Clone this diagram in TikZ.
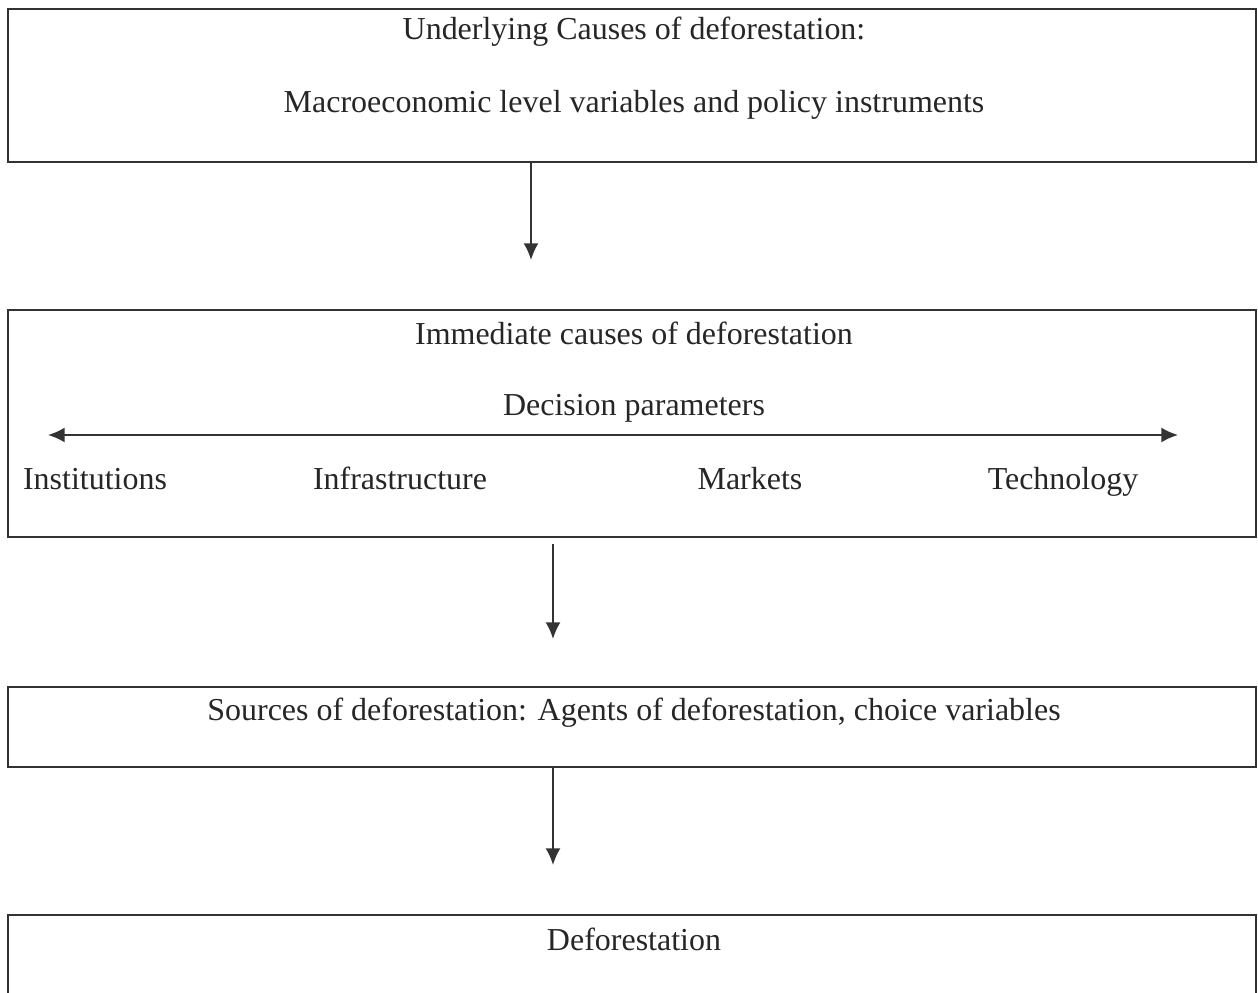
\documentclass[tikz,border=0pt]{standalone}
\usepackage{fontspec}
\setmainfont{Liberation Serif}
\usetikzlibrary{arrows.meta}
\tikzset{
  box/.style={draw=black!80, line width=1pt, minimum width=24.96cm, inner sep=0pt},
  lbl/.style={anchor=base, inner sep=0pt, text=black!85, font=\fontsize{18.2}{22}\selectfont},
}
\begin{document}
\begin{tikzpicture}[x=0.02cm, y=-0.02cm, >={Latex[length=9.5pt,width=8.5pt]}, line width=1pt]
\useasboundingbox (0,0) rectangle (1258,993);
% boxes
\node [box, minimum height=3.06cm] (underlying) at (632,85.5) {};
\node [box, minimum height=4.54cm] (immediate) at (632,423.5) {};
\node [box, minimum height=1.6cm] (sources) at (632,727) {};
\node [box, minimum height=1.9cm] (deforest) at (632,962.5) {};
% texts
\node [lbl] (t1) at (634,40) {Underlying Causes of deforestation:};
\node [lbl] (t2) at (634,113) {Macroeconomic level variables and policy instruments};
\node [lbl] (t3) at (634,344) {Immediate causes of deforestation};
\node [lbl] (t4) at (634,415) {Decision parameters};
\node [lbl] (inst) at (95,489) {Institutions};
\node [lbl] (infra) at (400,489) {Infrastructure};
\node [lbl] (mark) at (750,489) {Markets};
\node [lbl] (tech) at (1063,489) {Technology};
\node [lbl] (t5) at (634,720) {Sources of deforestation: Agents of deforestation, choice variables};
\node [lbl] (t6) at (634,950) {Deforestation};
% arrows
\coordinate (a1) at (531,260);
\coordinate (a2) at (553,639);
\coordinate (a3) at (553,865);
\coordinate (dl) at (48,435);
\coordinate (dr) at (1178,435);
\draw [->, black!80] (underlying.south -| a1)--(a1);
\draw [->, black!80, shorten <=0.12cm] (immediate.south -| a2)--(a2);
\draw [->, black!80] (sources.south -| a3)--(a3);
\draw [<->, black!80] (dl)--(dr);
\end{tikzpicture}
\end{document}
